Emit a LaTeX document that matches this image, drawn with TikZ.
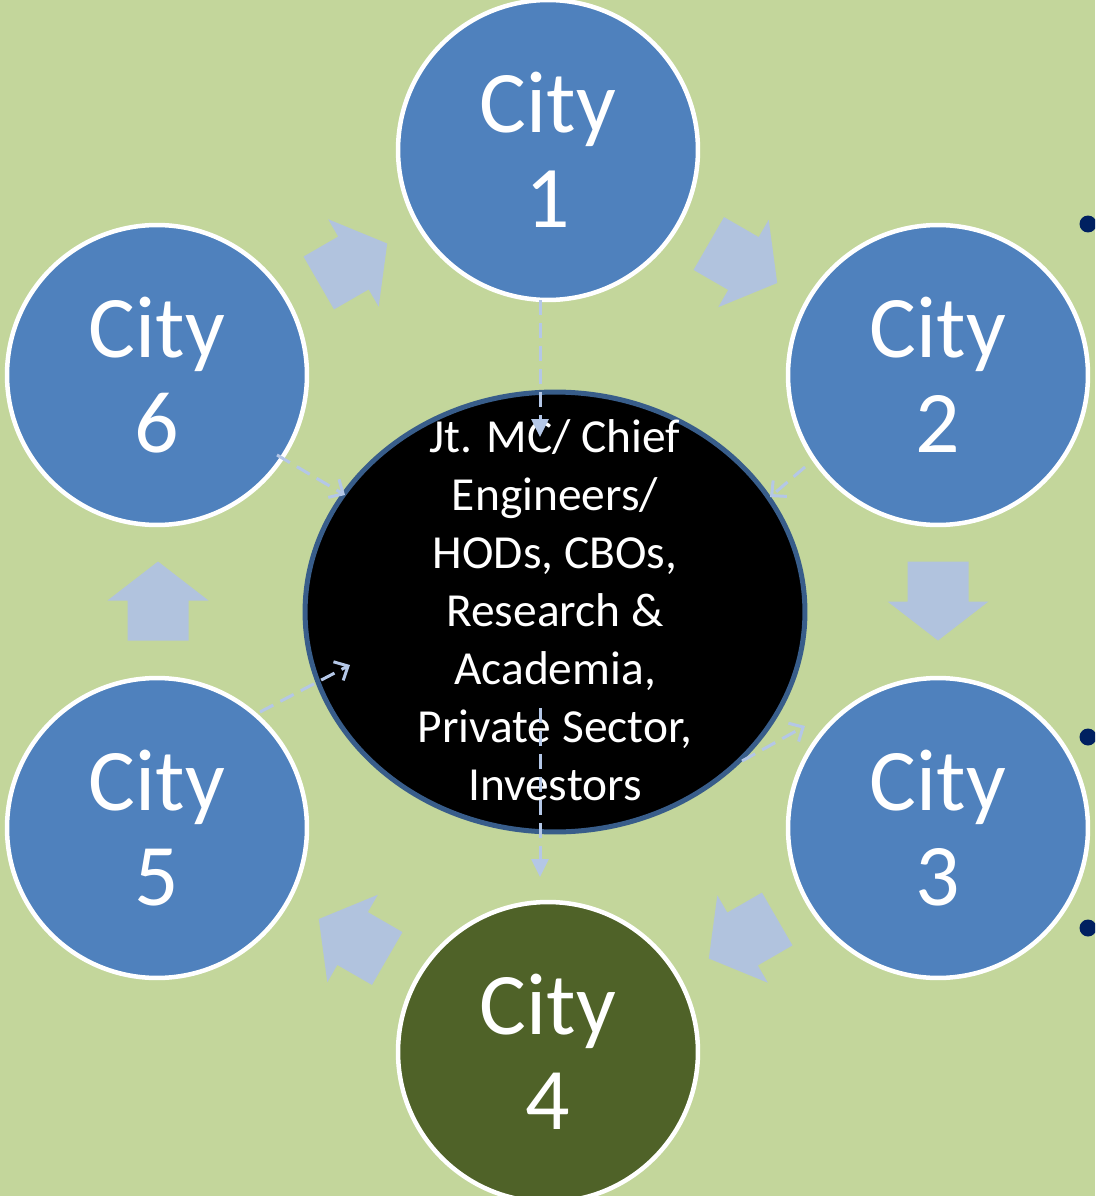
\documentclass[tikz,border=0pt]{standalone}
\usepackage{fontspec}
\setmainfont{Carlito}
\usetikzlibrary{shapes.geometric,arrows.meta}
\definecolor{bgcol}{HTML}{C3D69B}
\definecolor{cityblue}{HTML}{4F81BD}
\definecolor{citygreen}{HTML}{4F6228}
\definecolor{arrowcol}{HTML}{B1C3DE}
\definecolor{hubedge}{HTML}{385D8A}
\definecolor{dashcol}{HTML}{B4C7E7}
\definecolor{bulletcol}{HTML}{002060}
\tikzset{
  city/.style={circle, minimum size=6cm, inner sep=0pt, draw=white, line width=0.09cm,
    text=white, align=center, font=\fontsize{50}{54}\selectfont},
  hubnode/.style={ellipse, minimum width=10cm, minimum height=8.8cm, inner sep=0pt,
    fill=black, draw=hubedge, line width=0.1cm},
  hubtextstyle/.style={text=white, align=center, inner sep=0pt,
    font=\fontsize{27}{33}\selectfont},
  conn/.style={draw=dashcol, line width=0.06cm, dash pattern=on 0.3cm off 0.16cm},
  filltip/.style={-{Triangle[length=0.36cm,width=0.34cm]}},
  opentip/.style={-{Straight Barb[length=0.22cm,width=0.42cm,line width=0.06cm]}},
  barrow/.pic={\fill[arrowcol] (-39.5,-30.5) -- (0.5,-30.5) -- (0.5,-50.5) -- (39.5,0)
     -- (0.5,50.5) -- (0.5,30.5) -- (-39.5,30.5) -- cycle;},
  bullet/.style={circle, fill=bulletcol, minimum size=0.34cm, inner sep=0pt}
}
\begin{document}
\begin{tikzpicture}[x=0.02cm,y=-0.02cm]
\fill[bgcol] (0,0) rectangle (1095,1196);
\useasboundingbox (0,0) rectangle (1095,1196);
\begin{scope}
\clip (0,0) rectangle (1095,1196);
% block arrows (clockwise ring)
\foreach \a in {60,0,-60,-120,180,120}{
  \pic[rotate=\a-90] at ({548+390*cos(\a)},{601-390*sin(\a)}) {barrow};
}
% cities
\node[city, fill=cityblue] (c1) at (548,150) {City\\1};
\node[city, fill=cityblue] (c2) at (938,375) {City\\2};
\node[city, fill=cityblue] (c3) at (938,828) {City\\3};
\node[city, fill=citygreen] (c4) at (548,1052) {City\\4};
\node[city, fill=cityblue] (c5) at (157,828) {City\\5};
\node[city, fill=cityblue] (c6) at (157,375) {City\\6};
% hub
\node[hubnode] (hub) at (555,612) {};
\node[hubtextstyle] (hubtext) at ([yshift=0.04cm]hub.center) {Jt. MC/ Chief\\Engineers/\\HODs, CBOs,\\Research \&\\Academia,\\Private Sector,\\Investors};
% bullets
\node[bullet] (b1) at (1088,224) {};
\node[bullet] (b2) at (1088,737) {};
\node[bullet] (b3) at (1088,928) {};
% connector end points
\coordinate (d1s) at (540,300); \coordinate (d1e) at (540,437);
\coordinate (d2s) at (805,467); \coordinate (d2e) at (770,497);
\coordinate (d3s) at (742,761); \coordinate (d3e) at (805,726);
\coordinate (d4s) at (540,708); \coordinate (d4e) at (540,877);
\coordinate (d5s) at (260,712); \coordinate (d5e) at (350,665);
\coordinate (d6s) at (277,455); \coordinate (d6e) at (345,495);
\draw[conn, filltip] (d1s) -- (d1e);
\draw[conn, filltip] (d4s) -- (d4e);
\draw[conn, opentip] (d2s) -- (d2e);
\draw[conn, opentip] (d3s) -- (d3e);
\draw[conn, opentip] (d5s) -- (d5e);
\draw[conn, opentip] (d6s) -- (d6e);
\end{scope}
\end{tikzpicture}
\end{document}
